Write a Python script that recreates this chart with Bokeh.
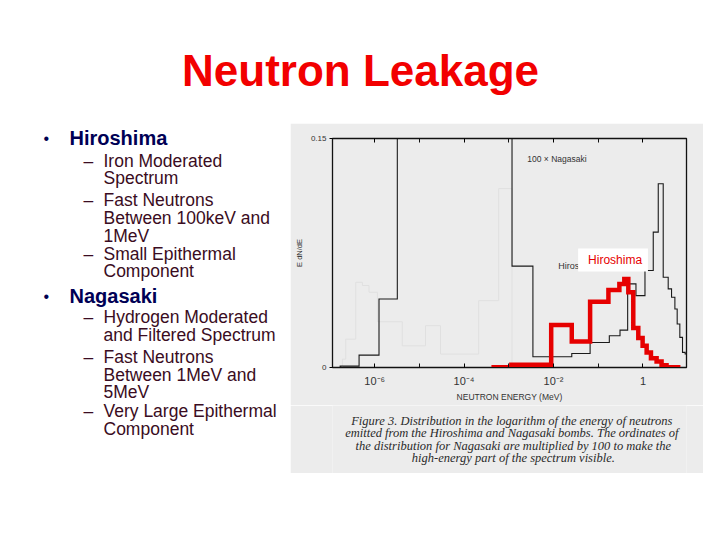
import numpy as np
from bokeh.plotting import figure
from bokeh.layouts import row, column
from bokeh.models import (Range1d, FixedTicker, LogAxis, BoxAnnotation, Label)
from bokeh.core.properties import value
from bokeh.embed import file_html
from bokeh.resources import INLINE

# ---------------- data ----------------
title_text = "Neutron Leakage"

main_items = ["Hiroshima", "Nagasaki"]
sub_lines = [
    ("Hiroshima", True, "Iron Moderated"),
    ("Hiroshima", False, "Spectrum"),
    ("Hiroshima", True, "Fast Neutrons"),
    ("Hiroshima", False, "Between 100keV and"),
    ("Hiroshima", False, "1MeV"),
    ("Hiroshima", True, "Small Epithermal"),
    ("Hiroshima", False, "Component"),
    ("Nagasaki", True, "Hydrogen Moderated"),
    ("Nagasaki", False, "and Filtered Spectrum"),
    ("Nagasaki", True, "Fast Neutrons"),
    ("Nagasaki", False, "Between 1MeV and"),
    ("Nagasaki", False, "5MeV"),
    ("Nagasaki", True, "Very Large Epithermal"),
    ("Nagasaki", False, "Component"),
]

# Nagasaki x100 spectrum (bin edges in MeV, E dN/dE per bin)
nag_edges = [1.69e-7, 4.48e-7, 1.25e-6, 3.21e-6, 1.18e-3, 3.46e-3, 0.0256, 0.0658,
             0.177, 0.307, 0.455, 0.698, 1.11, 1.70, 2.20, 2.84, 3.67, 4.36, 5.18,
             5.83, 6.68, 7.67, 8.79, 11.2]
nag_levels = [0.0009, 0.0081, 0.0449, 0.40, 0.0664, 0.0070, 0.0092, 0.0164, 0.0208,
              0.0245, 0.0548, 0.0471, 0.0635, 0.0887, 0.1204, 0.0591, 0.0515, 0.0460,
              0.0383, 0.0285, 0.0197, 0.0099, 0.0088]

# Hiroshima spectrum (red trace)
hir_edges = [4.59e-4, 1.14e-3, 8.87e-3, 0.0256, 0.0658, 0.169, 0.297, 0.383, 0.471,
             0.608, 0.787, 0.983, 1.21, 1.51, 2.02, 2.61, 3.37, 6.14]
hir_levels = [0.0002, 0.0018, 0.0278, 0.0171, 0.0431, 0.0508, 0.0547, 0.0580, 0.0493,
              0.0258, 0.0193, 0.0142, 0.0099, 0.0061, 0.0039, 0.0015, 0.0002]

# faint show-through trace visible in the scanned figure
ghost_edges = [1.90e-7, 2.25e-7, 3.77e-7, 5.31e-7, 7.48e-7, 1.15e-6, 4.14e-6,
               1.37e-5, 2.97e-5, 2.12e-4, 5.93e-4, 1.18e-3]
ghost_levels = [0.0055, 0.0186, 0.0558, 0.0537, 0.0493, 0.0300, 0.0142, 0.0274,
                0.0088, 0.0438, 0.1172]

x_label_ticks = [1e-6, 1e-4, 1e-2, 1.0]
x_minor_ticks = [1e-5, 1e-3, 1e-1]
x_tick_labels = ["10\u207b\u2076", "10\u207b\u2074", "10\u207b\u00b2", "1"]
y_ticks = [0.0, 0.15]
y_tick_labels = ["0", "0.15"]
x_label = "NEUTRON ENERGY (MeV)"
y_label = "E dN/dE"

caption_lines = [
    "Figure 3.  Distribution in the logarithm of the energy of neutrons",
    "emitted from the Hiroshima and Nagasaki bombs.  The ordinates of",
    "the distribution for Nagasaki are multiplied by 100 to make the",
    "high-energy part of the spectrum visible.",
]

# ---------------- styles ----------------
SANS = "Liberation Sans"
SERIF = "Liberation Serif"
SCAN_BG = "#ececec"
RED = "#e60000"
SHIFT = 0.37  # baseline compensation, in em


def blank(w, h, bg="white"):
    f = figure(width=w, height=h, x_range=Range1d(0, w), y_range=Range1d(h, 0),
               x_axis_type=None, y_axis_type=None, toolbar_location=None,
               output_backend="svg", min_border=0, outline_line_color=None,
               background_fill_color=bg, border_fill_color=bg)
    f.grid.visible = False
    return f


def steps(edges, levels):
    xs, ys = [edges[0]], [0.0]
    for i, lv in enumerate(levels):
        xs += [edges[i], edges[i + 1]]
        ys += [lv, lv]
    xs.append(edges[-1])
    ys.append(0.0)
    return xs, ys


# ---------------- title ----------------
tf = blank(720, 123)
tf.text(x=[360], y=[86.5 - SHIFT * 44], text=[title_text], text_font=value(SANS),
        text_font_style="bold", text_font_size="44px", text_color="#f20000",
        text_align="center", text_baseline="alphabetic")

# ---------------- left bullet text ----------------
lf = blank(290, 350)
main_base = {"Hiroshima": 22.0, "Nagasaki": 179.7}
sub_base = [43.7, 61.3, 83.0, 101.0, 118.7, 137.0, 154.3,
            200.3, 217.7, 240.3, 257.7, 275.3, 294.3, 312.0]
lf.text(x=[43] * 2, y=[main_base[m] - 1 - SHIFT * 16 for m in main_items],
        text=["\u2022"] * 2, text_font=value(SANS), text_font_size="16px",
        text_color="#000050", text_baseline="alphabetic")
lf.text(x=[69] * 2, y=[main_base[m] - SHIFT * 20 for m in main_items], text=main_items,
        text_font=value(SANS), text_font_style="bold", text_font_size="20px",
        text_color="#000055", text_baseline="alphabetic")
dash_y = [b - SHIFT * 17.5 for (m, d, t), b in zip(sub_lines, sub_base) if d]
lf.text(x=[83] * len(dash_y), y=dash_y, text=["\u2013"] * len(dash_y),
        text_font=value(SANS), text_font_size="17.5px", text_color="#3a0c22",
        text_baseline="alphabetic")
lf.text(x=[103] * len(sub_lines), y=[b - SHIFT * 17.5 for b in sub_base],
        text=[t for (m, d, t) in sub_lines],
        text_font=value(SANS), text_font_size="17.5px", text_color="#3a0c22",
        text_baseline="alphabetic")

# ---------------- chart ----------------
p = figure(width=413, height=282, x_axis_type="log",
           x_range=Range1d(1.14e-7, 9.42), y_range=Range1d(0, 0.15),
           toolbar_location=None, output_backend="svg",
           min_border_left=42, min_border_right=17, min_border_top=15,
           min_border_bottom=38, background_fill_color=SCAN_BG,
           border_fill_color=SCAN_BG, outline_line_color="#111111",
           outline_line_width=1.3)
p.grid.visible = False

gx, gy = steps(ghost_edges, ghost_levels)
p.line(gx, gy, line_color="#e0e0e0", line_width=1.0, line_join="miter")
nx, ny = steps(nag_edges, nag_levels)
p.line(nx, ny, line_color="#1a1a1a", line_width=1.1, line_join="miter")
hx, hy = steps(hir_edges, hir_levels)
p.line(hx, hy, line_color=RED, line_width=4.5, line_join="miter")

xa = p.xaxis[0]
xa.ticker = FixedTicker(ticks=x_label_ticks, minor_ticks=x_minor_ticks)
xa.major_label_overrides = {t: s for t, s in zip(x_label_ticks, x_tick_labels)}
xa.major_tick_in = 4
xa.major_tick_out = 0
xa.minor_tick_in = 4
xa.minor_tick_out = 0
xa.minor_tick_line_color = "#111111"
xa.major_label_standoff = 7
xa.major_label_text_font = SANS
xa.major_label_text_font_size = "11px"
xa.major_label_text_color = "#333333"
xa.axis_label = x_label
xa.axis_label_text_font = SANS
xa.axis_label_text_font_style = "normal"
xa.axis_label_text_font_size = "8.5px"
xa.axis_label_text_color = "#333333"
xa.axis_label_standoff = 2
xa.axis_line_color = "#111111"

top = LogAxis(ticker=FixedTicker(ticks=x_label_ticks, minor_ticks=x_minor_ticks),
              major_tick_in=4, major_tick_out=0, minor_tick_in=4, minor_tick_out=0,
              minor_tick_line_color="#111111",
              major_label_text_alpha=0.0, major_label_text_font_size="6px",
              major_label_standoff=0, axis_line_color="#111111")
p.add_layout(top, "above")

ya = p.yaxis[0]
ya.ticker = FixedTicker(ticks=y_ticks, minor_ticks=[])
ya.major_label_overrides = {t: s for t, s in zip(y_ticks, y_tick_labels)}
ya.major_tick_in = 0
ya.major_tick_out = 3
ya.major_label_standoff = 3
ya.major_label_text_font = SANS
ya.major_label_text_font_size = "8px"
ya.major_label_text_color = "#333333"
ya.axis_label = y_label
ya.axis_label_text_font = SANS
ya.axis_label_text_font_style = "normal"
ya.axis_label_text_font_size = "7.5px"
ya.axis_label_text_color = "#333333"
ya.axis_label_standoff = 4
ya.axis_line_color = "#111111"

p.add_layout(Label(x=2.59e-3, y=0.1364, text="100 \u00d7 Nagasaki", text_font=SANS,
                   text_font_size="8.5px", text_color="#333333",
                   text_baseline="middle"))
p.add_layout(Label(x=0.0127, y=0.0668, text="Hiroshima", text_font=SANS,
                   text_font_size="9px", text_color="#333333",
                   text_baseline="middle"))
p.add_layout(BoxAnnotation(left=0.0355, right=1.293, bottom=0.0629, top=0.0780,
                           fill_color="white", fill_alpha=1.0, line_color=None))
p.add_layout(Label(x=0.0593, y=0.0704, text="Hiroshima", text_font=SANS,
                   text_font_size="12px", text_color=RED, text_baseline="middle"))

# ---------------- caption ----------------
cf = blank(413, 68, bg=SCAN_BG)
cf.text(x=[211] * 4, y=[b - SHIFT * 12.5 for b in [20, 32.3, 45, 56.7]],
        text=caption_lines, text_font=value(SERIF), text_font_style="italic",
        text_font_size="12.5px", text_color="#2a2a2a", text_align="center",
        text_baseline="alphabetic")

layout = column(tf, row(lf, column(p, cf)))

open("out.html", "w").write(file_html(layout, INLINE))
